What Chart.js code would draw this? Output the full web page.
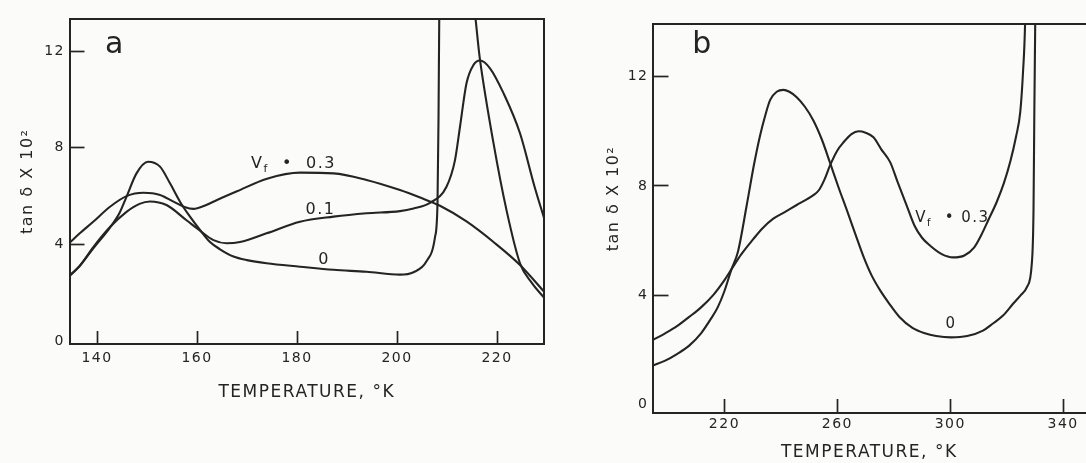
<!DOCTYPE html>
<html><head><meta charset="utf-8">
<script src="https://cdn.jsdelivr.net/npm/chart.js@4.4.0/dist/chart.umd.min.js"></script>
<style>
html,body{margin:0;padding:0;background:#fbfbf9;overflow:hidden;width:1086px;height:463px}
#wa{position:absolute;left:0;top:0;width:560px;height:463px}
#wb{position:absolute;left:560px;top:0;width:526px;height:463px}
canvas{display:block}
</style></head><body>
<div id="wa"><canvas id="ca" width="560" height="463"></canvas></div>
<div id="wb"><canvas id="cb" width="526" height="463"></canvas></div>
<script>
// ---------- Panel a data (temperature K, tan δ × 10²) ----------
const xTicksA = [140, 160, 180, 200, 220];
const yTicksA = [0, 4, 8, 12];
const tempA_03 = [134.5,136.5,139.3,142.6,145.9,149.3,152.6,155.3,157.5,159.3,161.5,164,168,174,180.6,187.3,193.9,200.6,204.5,208.6,213.9,219.3,224.6,229.4];
const tanA_03  = [4.06,4.45,4.95,5.56,6.0,6.14,6.05,5.77,5.55,5.47,5.6,5.84,6.2,6.72,6.97,6.94,6.67,6.25,5.95,5.6,4.95,4.1,3.15,2.05];
const tempA_01 = [134.5,136.5,139.3,142.6,145.9,148.5,150.6,153.9,157.9,160.6,163.3,165.9,168.6,173.9,180.6,187.3,193.9,200.6,203.3,206.6,209.9,211.6,212.6,213.9,215.3,216.6,218.6,221.3,224.6,227.5,229.4];
const tanA_01  = [2.68,3.1,3.9,4.72,5.35,5.68,5.78,5.63,5.0,4.57,4.18,4.05,4.1,4.46,4.94,5.15,5.29,5.38,5.49,5.72,6.39,7.49,8.87,10.67,11.43,11.61,11.29,10.26,8.6,6.4,5.1];
const tempA_0  = [134.5,136.5,139.3,142.6,144.5,145.9,147.9,150.2,152.6,154.6,156.6,158.6,160.6,162.6,164.6,167.3,170,173.9,180.6,187.3,193.9,200.6,203.3,205.9,207.6,208.1,208.3,208.45,208.6,215.0,216.6,219.3,221.9,224.6,227,229.4];
const tanA_0   = [2.72,3.1,3.85,4.7,5.3,5.97,6.94,7.42,7.22,6.53,5.77,5.15,4.6,4.1,3.8,3.5,3.35,3.22,3.08,2.95,2.87,2.75,2.85,3.3,4.3,5.7,9.15,13.4,16,14.4,11.64,8.19,5.42,3.22,2.4,1.8];

// ---------- Panel b data ----------
const xTicksB = [220, 260, 300, 340];
const yTicksB = [0, 4, 8, 12];
const tempB_03 = [194.5,199,203.3,207.5,211.7,216,220,222.5,226,230.2,233.5,237.3,241.5,245.6,249,251.5,253.5,255.5,257.4,260,262.2,265,267.5,270,272.8,275.5,278.7,281.5,284.5,287.3,290,293,297,301,305,308.5,311,313.5,316.5,319,321.3,323.3,324.8,325.8,326.5,327];
const tanB_03  = [2.35,2.6,2.87,3.2,3.55,4.0,4.55,4.95,5.5,6.05,6.45,6.8,7.05,7.3,7.5,7.66,7.85,8.25,8.75,9.3,9.6,9.9,10.0,9.95,9.78,9.35,8.87,8.1,7.3,6.55,6.1,5.8,5.5,5.38,5.45,5.75,6.2,6.75,7.42,8.1,8.9,9.8,10.7,12.2,13.9,17];
const tempB_0  = [194.5,199,203.3,207.5,211.7,215,217.6,220,222.5,224.8,227.9,230.5,232.6,234.5,236.2,238.5,240.9,243,245.6,248.5,251.5,254.5,257.4,260.4,263.4,266.5,269.3,272,275,278.3,282,286.6,291,295,300.3,306,311.6,315,318.7,322.4,325,327.2,328.9,329.5,329.8,330.1,330.3];
const tanB_0   = [1.42,1.6,1.85,2.15,2.6,3.1,3.55,4.15,4.95,5.6,7.3,8.8,9.84,10.6,11.15,11.45,11.52,11.45,11.25,10.9,10.4,9.7,8.85,7.95,7.1,6.2,5.4,4.75,4.2,3.7,3.2,2.8,2.6,2.5,2.45,2.5,2.7,2.95,3.25,3.7,4.0,4.3,5.16,7.1,10.8,13.9,17];

// ---------- Styling ----------
const INK = '#242424';
const FONT = 'DejaVu Sans';
Chart.defaults.font.family = FONT;
Chart.defaults.color = INK;

function pts(xs, ys) { return xs.map((x, i) => ({ x: x, y: ys[i] })); }
function lineDs(label, xs, ys) {
  return { label: label, data: pts(xs, ys), borderColor: INK, borderWidth: 2.1,
           pointRadius: 0, cubicInterpolationMode: 'monotone', fill: false };
}
const spacingPlugin = {
  id: 'spacing',
  beforeDraw(chart) { chart.ctx.letterSpacing = '1.5px'; }
};
const annotPlugin = {
  id: 'annot',
  afterDatasetsDraw(chart, args, opts) {
    const ctx = chart.ctx, sx = chart.scales.x, sy = chart.scales.y;
    ctx.save();
    ctx.fillStyle = INK;
    ctx.textBaseline = 'middle';
    ctx.textAlign = 'left';
    ctx.letterSpacing = '1.5px';
    for (const a of opts.items) {
      const px = sx.getPixelForValue(a.x), py = sy.getPixelForValue(a.y);
      let w = 0;
      for (const p of a.parts) { ctx.font = p.size + 'px "' + FONT + '"'; w += ctx.measureText(p.t).width; }
      let cx = px - w / 2;
      for (const p of a.parts) {
        ctx.font = p.size + 'px "' + FONT + '"';
        ctx.fillText(p.t, cx, py + (p.dy || 0));
        cx += ctx.measureText(p.t).width;
      }
    }
    ctx.restore();
  }
};

function noPad(s) { s.paddingLeft = 0; s.paddingRight = 0; s.paddingTop = 0; s.paddingBottom = 0; }

function frameScale(pos, size) {
  return { type: 'linear', position: pos, display: true,
    ticks: { display: false },
    grid: { display: true, drawOnChartArea: false, drawTicks: false },
    border: { display: true, color: INK, width: 2 },
    afterFit: s => { if (s.isHorizontal()) s.height = size; else s.width = size; noPad(s); } };
}

function makeChart(el, cfg) {
  return new Chart(el, {
    type: 'line',
    data: { datasets: cfg.datasets },
    plugins: [spacingPlugin, annotPlugin],
    options: {
      responsive: false, animation: false, devicePixelRatio: 1,
      layout: { padding: cfg.padding },
      plugins: { legend: { display: false }, tooltip: { enabled: false }, annot: { items: cfg.labels } },
      scales: Object.assign({
        x: { type: 'linear', position: 'bottom', min: cfg.xmin, max: cfg.xmax,
          afterBuildTicks: s => { s.ticks = cfg.xTicks.map(v => ({ value: v })); },
          afterFit: s => { s.height = cfg.xh; noPad(s); },
          grid: { drawOnChartArea: false, drawTicks: true, tickLength: -cfg.xtl, tickColor: INK, tickWidth: 1.7 },
          border: { display: true, color: INK, width: 2 },
          ticks: { padding: cfg.xpad, color: INK, font: { size: 14 }, maxRotation: 0, autoSkip: false },
          title: { display: true, text: 'TEMPERATURE, °K', color: INK, font: { size: 17 }, padding: { top: 0, bottom: cfg.xtitlePad } } },
        y: { type: 'linear', position: 'left', min: cfg.ymin, max: cfg.ymax,
          afterBuildTicks: s => { s.ticks = cfg.yTicks.map(v => ({ value: v })); },
          afterFit: s => { s.width = cfg.yw; noPad(s); },
          grid: { drawOnChartArea: false, drawTicks: true, tickLength: -cfg.ytl,
                  tickColor: c => (c.tick && c.tick.value === 0) ? 'rgba(0,0,0,0)' : INK, tickWidth: 1.7 },
          border: { display: true, color: INK, width: 2 },
          ticks: { padding: cfg.ypad, color: INK, font: { size: 14 } },
          title: { display: true, text: cfg.ytitle, color: INK, font: { size: 16 }, padding: { top: cfg.ytitlePad, bottom: 0 } } },
        x2: frameScale('top', 0)
      }, cfg.rightFrame ? { y2: frameScale('right', 0) } : {})
    }
  });
}

makeChart(document.getElementById('ca'), {
  datasets: [lineDs('Vf = 0.3', tempA_03, tanA_03), lineDs('Vf = 0.1', tempA_01, tanA_01), lineDs('Vf = 0', tempA_0, tanA_0)],
  padding: { left: 0, right: 16, top: 18.5, bottom: 0 },
  xmin: 134.5, xmax: 229.4, ymin: -0.12, ymax: 13.35,
  xTicks: xTicksA, yTicks: yTicksA,
  xh: 119, yw: 69.5, xtl: 13, ytl: 15, xpad: 19, ypad: 19.5,
  xtitlePad: 60, ytitlePad: 18, ytitle: 'tan δ X 10²', rightFrame: true,
  labels: [
    { x: 143.6, y: 12.26, parts: [{ t: 'a', size: 30 }] },
    { x: 179.3, y: 7.33, parts: [{ t: 'V', size: 16 }, { t: 'f', size: 11, dy: 5 }, { t: '  •  0.3', size: 16 }] },
    { x: 184.7, y: 5.42, parts: [{ t: '0.1', size: 16 }] },
    { x: 185.4, y: 3.35, parts: [{ t: '0', size: 16 }] }
  ]
});

makeChart(document.getElementById('cb'), {
  datasets: [lineDs('Vf = 0.3', tempB_03, tanB_03), lineDs('Vf = 0', tempB_0, tanB_0)],
  padding: { left: 0, right: 0, top: 23.5, bottom: 0 },
  xmin: 194.5, xmax: 348.1, ymin: -0.32, ymax: 13.95,
  xTicks: xTicksB, yTicks: yTicksB,
  xh: 50, yw: 92.5, xtl: 14, ytl: 16, xpad: 17, ypad: 20,
  xtitlePad: 0, ytitlePad: 44, ytitle: '      tan δ X 10²', rightFrame: false,
  labels: [
    { x: 212.2, y: 13.16, parts: [{ t: 'b', size: 30 }] },
    { x: 300.8, y: 6.81, parts: [{ t: 'V', size: 15 }, { t: 'f', size: 10, dy: 5 }, { t: '  •', size: 15 }, { t: ' 0.3', size: 15 }] },
    { x: 300.3, y: 2.92, parts: [{ t: '0', size: 15 }] }
  ]
});
</script>
</body></html>
